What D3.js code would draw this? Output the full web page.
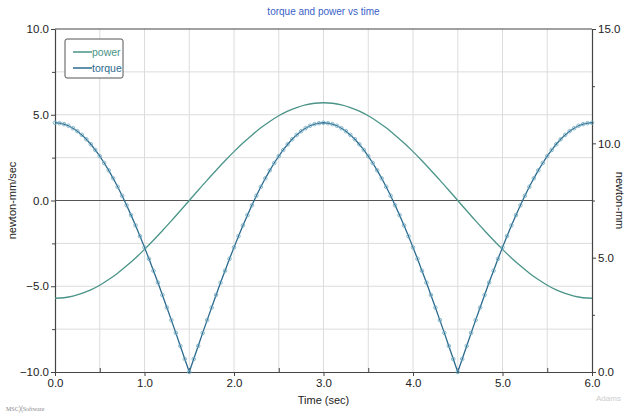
<!DOCTYPE html>
<html>
<head>
<meta charset="utf-8">
<script src="https://cdn.jsdelivr.net/npm/d3@7"></script>
<style>
  body { margin: 0; background: #fff; }
  svg text { font-family: "Liberation Sans", Arial, sans-serif; }
</style>
</head>
<body>
<svg id="chart" width="628" height="417"></svg>
<script>
//Torque (newton-mm, right axis), sampled every 0.05 sec
var torque = [
  10.90,10.88,10.84,10.77,10.66,10.53,10.37,10.18,9.96,9.71,9.44,9.14,8.82,8.47,8.10,7.71,
  7.29,6.86,6.41,5.94,5.45,4.95,4.43,3.91,3.37,2.82,2.27,1.71,1.14,0.57,0.00,
  0.57,1.14,1.71,2.27,2.82,3.37,3.91,4.43,4.95,5.45,5.94,6.41,6.86,7.29,7.71,
  8.10,8.47,8.82,9.14,9.44,9.71,9.96,10.18,10.37,10.53,10.66,10.77,10.84,10.88,10.90,
  10.88,10.84,10.77,10.66,10.53,10.37,10.18,9.96,9.71,9.44,9.14,8.82,8.47,8.10,7.71,
  7.29,6.86,6.41,5.94,5.45,4.95,4.43,3.91,3.37,2.82,2.27,1.71,1.14,0.57,0.00,
  0.57,1.14,1.71,2.27,2.82,3.37,3.91,4.43,4.95,5.45,5.94,6.41,6.86,7.29,7.71,
  8.10,8.47,8.82,9.14,9.44,9.71,9.96,10.18,10.37,10.53,10.66,10.77,10.84,10.88,10.90
];
var torqueTime = d3.range(torque.length).map(function(i) { return +(i * 0.05).toFixed(2); });

//Power (newton-mm/sec, left axis), sampled every 0.1 sec
var power = [
  -5.70,-5.67,-5.58,-5.42,-5.21,-4.94,-4.61,-4.24,-3.81,-3.35,-2.85,-2.32,-1.76,-1.19,-0.60,0.00,
  0.60,1.19,1.76,2.32,2.85,3.35,3.81,4.24,4.61,4.94,5.21,5.42,5.58,5.67,5.70,
  5.67,5.58,5.42,5.21,4.94,4.61,4.24,3.81,3.35,2.85,2.32,1.76,1.19,0.60,0.00,
  -0.60,-1.19,-1.76,-2.32,-2.85,-3.35,-3.81,-4.24,-4.61,-4.94,-5.21,-5.42,-5.58,-5.67,-5.70
];
var powerTime = d3.range(power.length).map(function(i) { return +(i * 0.1).toFixed(1); });

var xTicks = [0, 1, 2, 3, 4, 5, 6];
var xMinor = [0.5, 1.5, 2.5, 3.5, 4.5, 5.5];
var leftTicks = [-10, -5, 0, 5, 10];
var leftMinor = [-7.5, -2.5, 2.5, 7.5];
var rightTicks = [0, 5, 10, 15];
var rightMinor = [2.5, 7.5, 12.5];

var legendItems = [
  {label: "power", color: "#4a9488"},
  {label: "torque", color: "#2b6a8f"}
];

var margin = {top: 29, right: 36, bottom: 45, left: 55};
var width = 628 - margin.left - margin.right;
var height = 417 - margin.top - margin.bottom;

var svg = d3.select("#chart");
var g = svg.append("g")
  .attr("transform", "translate(" + margin.left + "," + margin.top + ")");

var x = d3.scaleLinear().domain([0, 6]).range([0, width]);
var yLeft = d3.scaleLinear().domain([-10, 10]).range([height, 0]);
var yRight = d3.scaleLinear().domain([0, 15]).range([height, 0]);

//Grid
g.selectAll(".vgrid")
  .data(xMinor.concat(xTicks.slice(1, -1)))
  .enter().append("line")
  .attr("x1", function(d) { return x(d); })
  .attr("x2", function(d) { return x(d); })
  .attr("y1", 0).attr("y2", height)
  .style("stroke", "#dcdcdc").style("stroke-width", 1);

g.selectAll(".hgrid")
  .data(leftMinor.concat([-5, 5]))
  .enter().append("line")
  .attr("x1", 0).attr("x2", width)
  .attr("y1", function(d) { return yLeft(d); })
  .attr("y2", function(d) { return yLeft(d); })
  .style("stroke", "#dcdcdc").style("stroke-width", 1);

//Zero line
g.append("line")
  .attr("x1", 0).attr("x2", width)
  .attr("y1", yLeft(0)).attr("y2", yLeft(0))
  .style("stroke", "#555").style("stroke-width", 1.2);

//Top border
g.append("line")
  .attr("x1", 0).attr("x2", width)
  .attr("y1", 0).attr("y2", 0)
  .style("stroke", "#444").style("stroke-width", 1.2);

//Axes
function styleAxis(sel) {
  sel.select(".domain").style("stroke", "#444").style("stroke-width", 1.2);
  sel.selectAll(".tick line").style("stroke", "#444");
  sel.selectAll(".tick text").style("font-size", "11.5px").style("fill", "#222");
}

var xAxis = g.append("g")
  .attr("transform", "translate(0," + height + ")")
  .call(d3.axisBottom(x).tickValues(xTicks).tickFormat(d3.format(".1f")).tickSize(4).tickSizeOuter(0).tickPadding(3))
  .call(styleAxis);
g.append("g")
  .attr("transform", "translate(0," + height + ")")
  .call(d3.axisBottom(x).tickValues(xMinor).tickFormat("").tickSize(-4).tickSizeOuter(0))
  .call(function(s) { s.select(".domain").remove(); s.selectAll("line").style("stroke", "#444"); });

g.append("g")
  .call(d3.axisLeft(yLeft).tickValues(leftTicks).tickFormat(d3.format(".1f")).tickSize(4).tickSizeOuter(0).tickPadding(2))
  .call(styleAxis);
g.append("g")
  .call(d3.axisLeft(yLeft).tickValues(leftMinor).tickFormat("").tickSize(3).tickSizeOuter(0))
  .call(function(s) { s.select(".domain").remove(); s.selectAll("line").style("stroke", "#444"); });

g.append("g")
  .attr("transform", "translate(" + width + ",0)")
  .call(d3.axisRight(yRight).tickValues(rightTicks).tickFormat(d3.format(".1f")).tickSize(4).tickSizeOuter(0).tickPadding(2))
  .call(styleAxis);
g.append("g")
  .attr("transform", "translate(" + width + ",0)")
  .call(d3.axisRight(yRight).tickValues(rightMinor).tickFormat("").tickSize(3).tickSizeOuter(0))
  .call(function(s) { s.select(".domain").remove(); s.selectAll("line").style("stroke", "#444"); });

//Lines
var powerLine = d3.line()
  .x(function(d, i) { return x(powerTime[i]); })
  .y(function(d) { return yLeft(d); })
  .curve(d3.curveMonotoneX);

var torqueLine = d3.line()
  .x(function(d, i) { return x(torqueTime[i]); })
  .y(function(d) { return yRight(d); });

g.append("path")
  .datum(power)
  .attr("d", powerLine)
  .style("fill", "none")
  .style("stroke", legendItems[0].color)
  .style("stroke-width", 1.3);

g.append("path")
  .datum(torque)
  .attr("d", torqueLine)
  .style("fill", "none")
  .style("stroke", legendItems[1].color)
  .style("stroke-width", 1.3);

g.selectAll(".torque-marker")
  .data(torque)
  .enter().append("circle")
  .attr("class", "torque-marker")
  .attr("cx", function(d, i) { return x(torqueTime[i]); })
  .attr("cy", function(d) { return yRight(d); })
  .attr("r", 1.8)
  .style("fill", "none")
  .style("stroke", "#6fa9bf")
  .style("stroke-width", 0.8);

//Legend
var legend = svg.append("g").attr("transform", "translate(65,39)");
legend.append("rect")
  .attr("width", 58).attr("height", 39)
  .attr("rx", 2)
  .style("fill", "#fff")
  .style("stroke", "#555")
  .style("stroke-width", 1);
legend.selectAll(".legend-line")
  .data(legendItems)
  .enter().append("line")
  .attr("x1", 8).attr("x2", 27)
  .attr("y1", function(d, i) { return 13 + i * 16; })
  .attr("y2", function(d, i) { return 13 + i * 16; })
  .style("stroke", function(d) { return d.color; })
  .style("stroke-width", 1.5);
legend.selectAll(".legend-text")
  .data(legendItems)
  .enter().append("text")
  .attr("x", 27)
  .attr("y", function(d, i) { return 13 + i * 16; })
  .attr("dy", "0.35em")
  .style("font-size", "10.5px")
  .style("fill", function(d) { return d.color; })
  .text(function(d) { return d.label; });

//Titles
svg.append("text")
  .attr("x", margin.left + width / 2)
  .attr("y", 15)
  .attr("text-anchor", "middle")
  .style("font-size", "10px")
  .style("fill", "#3a5fc8")
  .text("torque and power vs time");

svg.append("text")
  .attr("x", margin.left + width / 2)
  .attr("y", 404)
  .attr("text-anchor", "middle")
  .style("font-size", "11px")
  .style("fill", "#222")
  .text("Time (sec)");

svg.append("text")
  .attr("transform", "translate(16," + (margin.top + height / 2) + ") rotate(-90)")
  .attr("text-anchor", "middle")
  .style("font-size", "11px")
  .style("fill", "#222")
  .text("newton-mm/sec");

svg.append("text")
  .attr("transform", "translate(616," + (margin.top + height / 2) + ") rotate(90)")
  .attr("text-anchor", "middle")
  .style("font-size", "11px")
  .style("fill", "#222")
  .text("newton-mm");

//Logos
svg.append("text")
  .attr("x", 6).attr("y", 411)
  .style("font-size", "6px")
  .style("font-family", "'Liberation Serif', serif")
  .style("fill", "#888")
  .text("MSC╳Software");

svg.append("text")
  .attr("x", 596).attr("y", 401)
  .style("font-size", "8px")
  .style("fill", "#ccc")
  .text("Adams");
</script>
</body>
</html>
